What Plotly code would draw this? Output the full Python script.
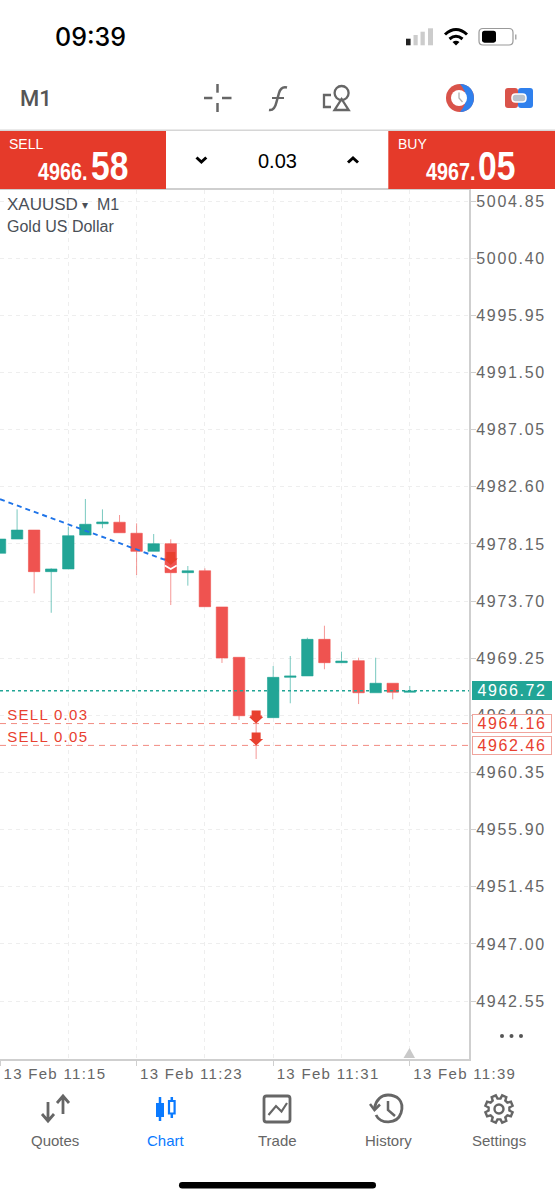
import re
import math
import plotly.graph_objects as go

W, H = 555, 1200
DAY = "2026-02-13 "

# ---------- chart data ----------
minutes = ["11:%02d" % m for m in range(15, 40)]
opens  = [4977.42,4978.53,4979.23,4975.99,4976.20,4978.84,4979.72,4979.84,4978.98,4977.57,4978.17,4975.91,4976.06,
          4973.24,4969.32,4964.77,4964.62,4967.76,4967.87,4970.72,4968.90,4969.06,4966.56,4967.30,4966.60]
highs  = [4978.53,4980.84,4979.23,4976.25,4979.49,4981.65,4980.84,4980.40,4979.75,4978.92,4978.51,4976.43,4976.25,
          4973.24,4969.32,4964.77,4968.64,4969.42,4970.85,4971.78,4969.76,4969.29,4969.29,4967.30,4967.09]
lows   = [4977.42,4978.53,4974.30,4972.79,4976.20,4978.84,4979.37,4979.02,4975.73,4977.57,4973.39,4974.90,4973.26,
          4968.88,4964.44,4961.40,4964.62,4965.74,4967.87,4968.39,4968.90,4965.68,4966.56,4966.05,4966.60]
closes = [4978.53,4979.23,4975.99,4976.20,4978.79,4979.68,4979.86,4979.02,4977.57,4978.17,4975.91,4976.06,4973.26,
          4969.27,4964.77,4964.63,4967.76,4967.87,4970.72,4968.90,4969.03,4966.56,4967.30,4966.60,4966.70]

price_ticks = [5004.85,5000.40,4995.95,4991.50,4987.05,4982.60,4978.15,4973.70,4969.25,4964.80,4960.35,4955.90,4951.45,4947.00,4942.55]
time_ticks = ["11:15","11:23","11:31","11:39"]
time_labels = ["13 Feb 11:15","13 Feb 11:23","13 Feb 11:31","13 Feb 11:39"]
minor_grid_times = ["11:19","11:27","11:35"]
trend_times = ["11:15","11:25"]
trend_prices = [4981.63,4976.74]
current_price = 4966.72
order_prices = [4964.16,4962.46]
order_labels = ["SELL 0.03","SELL 0.05"]
arrow_times = ["11:25","11:30","11:30"]
arrow_prices = [4976.51,4964.16,4962.46]

TEAL, RED, ORDER = "#22a596", "#ef5350", "#e8402f"
GREY, LIGHT, BAR = "#666666", "#cfcfcf", "#e53a2a"
BLUE = "#0a7aff"
FONT = "Liberation Sans, Arial, sans-serif"

def t(s):
    return DAY + s

x_all = [t(m) for m in minutes]
x_range = [t("11:15:00"), t("11:42:28")]
y_range = [4938.04, 5005.71]
x_span = [t(time_ticks[0]), t("11:42:28")]

fig = go.Figure()
fig.add_trace(go.Candlestick(
    x=x_all, open=opens, high=highs, low=lows, close=closes,
    increasing=dict(line=dict(color="rgba(34,165,150,0.6)", width=1), fillcolor=TEAL),
    decreasing=dict(line=dict(color="rgba(239,83,80,0.6)", width=1), fillcolor=RED),
    whiskerwidth=0, hoverinfo="skip"))
fig.add_trace(go.Scatter(x=[t(s) for s in trend_times], y=trend_prices, mode="lines",
                         line=dict(color="#1f74e8", width=1.9, dash="5px 4px"), hoverinfo="skip"))
fig.add_trace(go.Scatter(x=x_span, y=[current_price]*2, mode="lines",
                         line=dict(color=TEAL, width=1.5, dash="3px 3px"), hoverinfo="skip"))
for p in order_prices:
    fig.add_trace(go.Scatter(x=x_span, y=[p]*2, mode="lines",
                             line=dict(color="#f28b82", width=1, dash="6px 5px"), hoverinfo="skip"))

# ---------- page-pixel helpers for the app chrome ----------
def px(x, y):
    return x / W, 1 - y / H

def conv(path):
    toks = re.findall(r"[A-Za-z]|-?\d+\.?\d*", path)
    out = []
    nums = []
    for tk in toks:
        if tk.isalpha():
            out.append(tk)
        else:
            nums.append(float(tk))
            if len(nums) == 2:
                a, b = px(*nums)
                out.append(f"{a:.5f},{b:.5f}")
                nums = []
    return " ".join(out)

shapes = []
def path(d, color=None, fill=None, w=2):
    shapes.append(dict(type="path", xref="paper", yref="paper", path=conv(d), layer="above",
                       fillcolor=fill or "rgba(0,0,0,0)",
                       line=dict(color=color or "rgba(0,0,0,0)", width=w if color else 0)))
def rect(x0, y0, x1, y1, fill=None, color=None, w=1):
    a0, b0 = px(x0, y0); a1, b1 = px(x1, y1)
    shapes.append(dict(type="rect", xref="paper", yref="paper", x0=a0, y0=b0, x1=a1, y1=b1, layer="above",
                       fillcolor=fill or "rgba(0,0,0,0)",
                       line=dict(color=color or "rgba(0,0,0,0)", width=w if color else 0)))
def circ(cx, cy, r, fill=None, color=None, w=1):
    a0, b0 = px(cx - r, cy - r); a1, b1 = px(cx + r, cy + r)
    shapes.append(dict(type="circle", xref="paper", yref="paper", x0=a0, y0=b0, x1=a1, y1=b1, layer="above",
                       fillcolor=fill or "rgba(0,0,0,0)",
                       line=dict(color=color or "rgba(0,0,0,0)", width=w if color else 0)))
def rpath(x0, y0, x1, y1, r):
    return (f"M{x0+r},{y0} L{x1-r},{y0} Q{x1},{y0} {x1},{y0+r} L{x1},{y1-r} Q{x1},{y1} {x1-r},{y1} "
            f"L{x0+r},{y1} Q{x0},{y1} {x0},{y1-r} L{x0},{y0+r} Q{x0},{y0} {x0+r},{y0} Z")

ann = []
def text(x, y, s, size, color="#000", anchor="left", family=FONT, weight=None):
    a, b = px(x, y)
    f = dict(size=size, color=color, family=family)
    if weight:
        f["weight"] = weight
    ann.append(dict(xref="paper", yref="paper", x=a, y=b, text=s, showarrow=False, xanchor=anchor, yanchor="middle",
                    font=f, borderpad=0))
    return len(ann) - 1

# right-hand price tags (first annotations: letter-spaced by CSS)
def tag(price, color, bg, border):
    ann.append(dict(xref="paper", yref="y", x=472/W, y=price, text=f"{price:.2f}", showarrow=False,
                    xanchor="left", yanchor="middle", width=78, height=17, align="center",
                    bgcolor=bg, bordercolor=border, borderwidth=1, borderpad=0,
                    font=dict(size=16, color=color, family=FONT)))
tag(current_price, "#ffffff", TEAL, TEAL)
tag(order_prices[0], ORDER, "#ffffff", "#f0a49c")
tag(order_prices[1], ORDER, "#ffffff", "#f0a49c")
for p, lab in zip(order_prices, order_labels):
    ann.append(dict(xref="paper", yref="y", x=12/W, y=p, yshift=9, text=lab, showarrow=False, xanchor="left",
                    yanchor="middle", font=dict(size=15, color=ORDER, family=FONT), borderpad=0))

# trade arrows, anchored to the data
ARROW = "M-4.5,13 L4.5,13 L4.5,6.5 L7,6.5 L0,0 L-7,6.5 L-4.5,6.5 Z"
for at, ap in zip(arrow_times, arrow_prices):
    shapes.append(dict(type="path", xref="x", yref="y", xsizemode="pixel", ysizemode="pixel",
                       xanchor=t(at), yanchor=ap, path=ARROW, fillcolor=ORDER, layer="above",
                       line=dict(color="rgba(0,0,0,0)", width=0)))
shapes.append(dict(type="path", xref="x", yref="y", xsizemode="pixel", ysizemode="pixel",
                   xanchor=t(arrow_times[0]), yanchor=arrow_prices[0], path="M-6,-0.5 L0,-4 L6,-0.5",
                   layer="above", line=dict(color="#ffffff", width=1.8)))

# status bar
text(90, 37, "09:39", 25, "#000", "center", "Inter, Liberation Sans, sans-serif", 500)
rect(406, 38.7, 410.6, 45.3, "#222")
rect(413.5, 35, 417.7, 45.3, "#cccccc")
rect(420.5, 31.7, 424.8, 45.3, "#cccccc")
rect(428, 28.3, 433, 45.3, "#cccccc")
path("M445,34.5 Q456,24.5 467,34.5", "#000", w=3)
path("M449.5,39 Q456,33.5 462.5,39", "#000", w=3)
path("M452.5,42 L456,45.5 L459.5,42 Q456,39.5 452.5,42 Z", None, "#000")
path(rpath(479, 28.5, 513, 45, 4), "#9a9a9a", w=1.2)
path(rpath(482, 30.7, 496, 42.7, 2.5), None, "#000")
rect(515, 34.5, 516.5, 39.5, "#aaaaaa")

# toolbar
text(19, 98, "M1", 22, "#555555", family="Roboto, Liberation Sans, sans-serif", weight=500)
for d in ["M204,98 L212.4,98", "M222,98 L231.5,98", "M217.5,84 L217.5,92.7", "M217.5,103 L217.5,112"]:
    path(d, GREY, w=2.5)
path("M269,110 Q274.5,111 276.5,102 L279,93 Q281,86 287,87.5", GREY, w=2.5)
path("M272,98 L284,98", GREY, w=2)
circ(341.6, 93, 7, None, GREY, 2.3)
path("M334.5,110 L348.7,110 L341.6,99 Z", GREY, w=2.3)
path("M331,95 L324,95 L324,107 L331,107", GREY, w=2.3)
circ(460, 98, 14, "#d9534a")
path("M460,84 C469,84 474,90.5 474,98 C474,105.5 469,112 460,112 Q466,105 466,98 Q466,91 460,84 Z", None, "#2f80ed")
circ(459, 98, 8, "#ffffff")
path("M459,92.5 L459,98 L462.5,102", "#b0b0b0", w=1.3)
path(rpath(505, 88, 518, 108, 3), None, "#d9534a")
path(rpath(518, 88, 533, 108, 3), None, "#2f80ed")
path(rpath(512, 94, 526, 102, 3.5), "#ffffff", "#b9c2cc", 1.5)

# separator and trade bar
rect(0, 129.5, 555, 131, "#d6d6d6")
rect(0, 131, 166, 189, BAR)
rect(388.3, 131, 555, 189, BAR)
text(8, 144.5, "SELL", 14, "#fff")
small = [text(89, 172, "4966.", 23, "#fff", "right", weight=700)]
big = [text(90, 166, "58", 41, "#fff", "left", weight=700)]
text(397, 144.5, "BUY", 14, "#fff")
small.append(text(477, 172, "4967.", 23, "#fff", "right", weight=700))
big.append(text(477, 166, "05", 41, "#fff", "left", weight=700))
text(277, 161, "0.03", 20, "#000", "center")
path("M196.5,157.5 L201.4,162 L206.3,157.5", "#000", w=3)
path("M348,162.5 L353,158 L358,162.5", "#000", w=3)

# chart heading
text(6, 204, "XAUUSD", 17, "#4a4f57")
text(81, 205, "▾", 12, "#4a4f57")
text(96, 204, "M1", 16, "#4a4f57")
text(6, 226, "Gold US Dollar", 16, "#4a4f57")

# bottom of chart
for x in (502, 511.5, 521):
    circ(x, 1036, 2, "#555555")
path("M403.5,1058 L409.5,1048 L415,1058 Z", None, "#c9c9c9")

# tab bar
for x, lab, col in [(55, "Quotes", GREY), (166, "Chart", BLUE), (277, "Trade", GREY),
                    (388, "History", GREY), (499, "Settings", GREY)]:
    text(x, 1140.7, lab, 15, col, "center")
path("M48,1102 L48,1120 M42,1114 L48,1121 L54,1114", GREY, w=2.8)
path("M63,1114 L63,1097 M57,1103 L63,1096 L69,1103", GREY, w=2.8)
path("M160,1097 L160,1121", BLUE, w=2.5)
rect(156, 1103, 164, 1117, BLUE)
path("M171.8,1097 L171.8,1118", BLUE, w=2.5)
rect(169, 1101, 174.6, 1113.5, "#ffffff", BLUE, 2.2)
path(rpath(264, 1096, 290, 1122, 2.5), GREY, w=2.8)
path("M268.5,1115 L276,1106 L281.5,1111.5 L287,1103", GREY, w=2.2)
path("M376,1115 C380,1124 397,1125 401,1113 C405,1100 396,1095 388,1095 C381,1095 376,1100 374.5,1108",
     GREY, w=2.8)
path("M370,1104 L374.5,1110 L380,1104.5", GREY, w=2.5)
path("M388,1101 L388,1110 L395,1116", GREY, w=2.5)
gx, gy = 499, 1109
pts = []
for k in range(8):
    a = k * math.pi / 4 - math.pi / 8
    for off, r in [(-0.25, 10.5), (-0.16, 14), (0.16, 14), (0.25, 10.5)]:
        pts.append((gx + r * math.cos(a + off), gy + r * math.sin(a + off)))
path("M" + " L".join(f"{x:.1f},{y:.1f}" for x, y in pts) + " Z", GREY, w=2.4)
circ(gx, gy, 4.5, None, GREY, 2.4)
path(rpath(179, 1182, 376, 1188.5, 3.2), None, "#000")

fig.update_layout(
    width=W, height=H, margin=dict(l=0, r=0, t=0, b=0, autoexpand=False),
    paper_bgcolor="#ffffff", plot_bgcolor="#ffffff",
    showlegend=False, hovermode=False, boxgap=0.33, boxgroupgap=0,
    shapes=shapes, annotations=ann,
    font=dict(family=FONT),
    xaxis=dict(type="date", domain=[0, 469/W], range=x_range, rangeslider=dict(visible=False), automargin=False,
               tickmode="array", tickvals=[t(s) for s in time_ticks], ticktext=time_labels,
               ticklabelposition="outside right", ticklabelshift=2, ticks="outside", ticklen=5, tickcolor=LIGHT,
               tickfont=dict(size=15, color=GREY), showline=True, linecolor=LIGHT, linewidth=2, mirror=True,
               showgrid=True, gridcolor="#eeeeee", griddash="4px 4px", gridwidth=1, zeroline=False,
               minor=dict(tickmode="array", tickvals=[t(s) for s in minor_grid_times], showgrid=True,
                          gridcolor="#eeeeee", griddash="4px 4px", ticks="")),
    yaxis=dict(domain=[1-1059/H, 1-190/H], range=y_range, side="right", tickmode="array", tickvals=price_ticks,
               ticktext=[f"{p:.2f}" for p in price_ticks], ticks="outside", ticklen=5, tickcolor=LIGHT,
               ticklabelstandoff=-3,
               tickfont=dict(size=16, color=GREY), showline=True, linecolor=LIGHT, linewidth=2, mirror=True,
               showgrid=True, gridcolor="#eeeeee", griddash="4px 4px", gridwidth=1, zeroline=False, automargin=False),
)

def sel(idx):
    return ",".join(f'.annotation[data-index="{i}"] text' for i in idx)

css = ("html,body{margin:0;padding:0;overflow:hidden}"
       ".ytick text{letter-spacing:1.7px}.xtick text{letter-spacing:1.3px}"
       + sel([0, 1, 2]) + "{letter-spacing:1.6px}"
       + sel([3, 4]) + "{letter-spacing:1.3px}"
       + sel(small) + "{transform-box:fill-box;transform-origin:right center;transform:scaleX(.86)}"
       + sel(big) + "{transform-box:fill-box;transform-origin:left center;transform:scaleX(.82)}")
post = "var s=document.createElement('style');s.textContent=" + repr(css) + ";document.head.appendChild(s);"
fig.write_html("out.html", config=dict(displayModeBar=False, staticPlot=True), post_script=post)
